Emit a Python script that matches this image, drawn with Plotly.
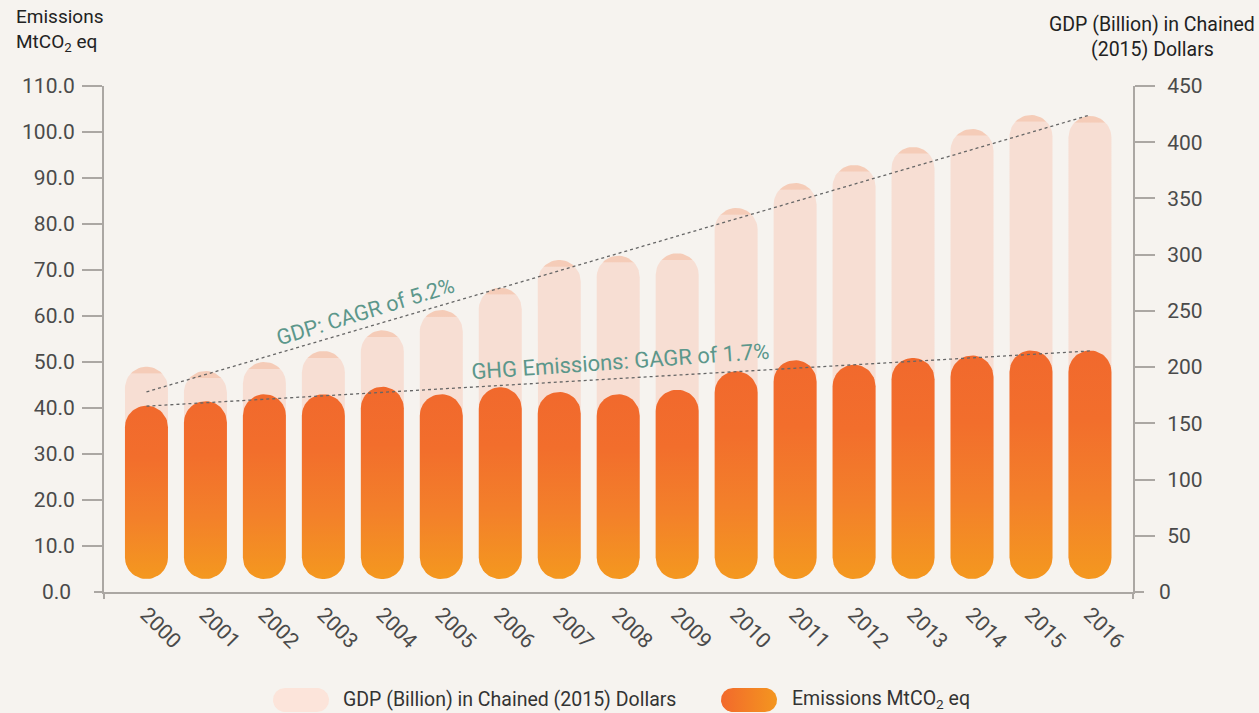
import numpy as np
import plotly.graph_objects as go

# ---------------- data ----------------
years = ["2000", "2001", "2002", "2003", "2004", "2005", "2006", "2007", "2008",
         "2009", "2010", "2011", "2012", "2013", "2014", "2015", "2016"]
gdp = [200.4, 196.5, 204.6, 214.3, 232.7, 250.8, 270.6, 295.3, 299.1,
       301.2, 341.5, 363.7, 379.8, 395.8, 411.8, 424.2, 423.3]
emissions = [40.5, 41.5, 43.0, 43.0, 44.6, 43.0, 44.5, 43.5, 43.0,
             44.0, 48.0, 50.4, 49.4, 50.9, 51.4, 52.5, 52.5]
gdp_trend = [178.0, 424.2]        # dotted trend line, first and last year
emis_trend = [40.4, 52.4]
emis_ticks = [0, 10, 20, 30, 40, 50, 60, 70, 80, 90, 100, 110]
gdp_ticks = [0, 50, 100, 150, 200, 250, 300, 350, 400, 450]

# ---------------- geometry ----------------
W, H = 1259, 713
ML, MR, MT, MB = 104, 126, 86, 0
PLOT_BOTTOM = 592
PW = W - ML - MR
PH = H - MT - MB
YDOM0 = (H - PLOT_BOTTOM) / PH
MAIN_H = PLOT_BOTTOM - MT

X_RANGE = [-0.72, 16.73]
Y_EM_RANGE = [0, 110]
Y_GDP_RANGE = [0, 450]
px_x = PW / (X_RANGE[1] - X_RANGE[0])
px_em = MAIN_H / (Y_EM_RANGE[1] - Y_EM_RANGE[0])
px_gdp = MAIN_H / (Y_GDP_RANGE[1] - Y_GDP_RANGE[0])

BAR_PX = 43
BASE_GAP_PX = 13
CAP_PX = 7
hw = BAR_PX / 2 / px_x
r_em = BAR_PX / 2 / px_em
r_gdp = BAR_PX / 2 / px_gdp

BG = "#F6F3EF"
AXIS = "#ABA7A3"
GDP_BODY = "#F7DED3"
GDP_CAP = "#F5CCB8"
TEAL = "#5C978B"
FONT = "Roboto"
TICK_COLOR = "#4A4A4A"


def vpill(xc, top, bottom, hw, r, n=30):
    t = np.linspace(0, np.pi, n)
    xs = list(xc + hw * np.cos(t)) + list(xc - hw * np.cos(t))
    ys = list(top - r + r * np.sin(t)) + list(bottom + r - r * np.sin(t))
    return xs + [xs[0]], ys + [ys[0]]


def hpill(x0, x1, yc, r, n=30):
    t1 = np.linspace(-np.pi / 2, np.pi / 2, n)
    t2 = np.linspace(np.pi / 2, 3 * np.pi / 2, n)
    xs = list(x1 - r + r * np.cos(t1)) + list(x0 + r + r * np.cos(t2))
    ys = list(yc + r * np.sin(t1)) + list(yc + r * np.sin(t2))
    return xs + [xs[0]], ys + [ys[0]]


def px2paper(fx, fy):
    return (fx - ML) / PW, (H - MB - fy) / PH


fig = go.Figure()

# GDP pills (base axis y, right side)
gdp_bottom = BASE_GAP_PX / px_gdp
for i, g in enumerate(gdp):
    xs, ys = vpill(i, g, gdp_bottom, hw, r_gdp)
    frac = 1 - CAP_PX / ((g - gdp_bottom) * px_gdp)
    fig.add_trace(go.Scatter(
        x=xs, y=ys, mode="lines", fill="toself", line=dict(width=0),
        fillgradient=dict(type="vertical", start=gdp_bottom, stop=g,
                          colorscale=[[0, GDP_BODY], [frac, GDP_BODY],
                                      [min(frac + 0.002, 1), GDP_CAP], [1, GDP_CAP]]),
        xaxis="x", yaxis="y", showlegend=False, hoverinfo="skip"))

fig.add_trace(go.Scatter(x=[0, len(years) - 1], y=gdp_trend, mode="lines",
                         line=dict(color="#666", width=1.3, dash="dot"),
                         xaxis="x", yaxis="y", showlegend=False, hoverinfo="skip"))

# Emission pills (overlaying axis y2, left side)
em_bottom = BASE_GAP_PX / px_em
for i, e in enumerate(emissions):
    xs, ys = vpill(i, e, em_bottom, hw, r_em)
    fig.add_trace(go.Scatter(
        x=xs, y=ys, mode="lines", fill="toself", line=dict(width=0),
        fillgradient=dict(type="vertical", start=em_bottom, stop=e,
                          colorscale=[[0, "#F4981F"], [0.35, "#F3802A"], [0.7, "#F26E2C"], [1, "#F1692D"]]),
        xaxis="x", yaxis="y2", showlegend=False, hoverinfo="skip"))

fig.add_trace(go.Scatter(x=[0, len(years) - 1], y=emis_trend, mode="lines",
                         line=dict(color="#666", width=1.3, dash="dot"),
                         xaxis="x", yaxis="y2", showlegend=False, hoverinfo="skip"))

# Legend swatches on a pixel-unit helper axis
LEG_H = 50
sx, sy = hpill(273 - ML, 329 - ML, H - 700, 12)
fig.add_trace(go.Scatter(x=sx, y=sy, mode="lines", fill="toself", line=dict(width=0),
                         fillcolor="#FCE4DA", xaxis="x3", yaxis="y3",
                         showlegend=False, hoverinfo="skip"))
sx, sy = hpill(721 - ML, 777 - ML, H - 700, 12)
fig.add_trace(go.Scatter(x=sx, y=sy, mode="lines", fill="toself", line=dict(width=0),
                         fillgradient=dict(type="horizontal", start=721 - ML, stop=777 - ML,
                                           colorscale=[[0, "#F2692C"], [1, "#F4961F"]]),
                         xaxis="x3", yaxis="y3", showlegend=False, hoverinfo="skip"))

annotations = []


def add_text(text, fx, fy, size, color, xanchor="center", angle=0):
    px, py = px2paper(fx, fy)
    annotations.append(dict(text=text, x=px, y=py, xref="paper", yref="paper",
                            xanchor=xanchor, yanchor="middle", showarrow=False,
                            textangle=angle, font=dict(family=FONT, size=size, color=color)))


add_text("Emissions", 14, 17, 19, "#222", "left")
add_text("MtCO<sub>2</sub> eq", 14, 42, 19, "#222", "left")
add_text("GDP (Billion) in Chained", 1152, 25, 19.5, "#222")
add_text("(2015) Dollars", 1152, 50, 19.5, "#222")
add_text("GDP: CAGR of 5.2%", 365, 311, 21.5, TEAL, angle=-17)
add_text("GHG Emissions: GAGR of 1.7%", 620, 361, 22, TEAL, angle=-4)
add_text("GDP (Billion) in Chained (2015) Dollars", 341, 699, 19.5, "#333", "left")
add_text("Emissions MtCO<sub>2</sub> eq", 790, 699, 19.5, "#333", "left")
# zero labels sit next to the short axis-line stubs instead of full ticks
add_text(f"{emis_ticks[0]:.1f}", 73, PLOT_BOTTOM, 21, TICK_COLOR, "right")
add_text(str(gdp_ticks[0]), 1157, PLOT_BOTTOM, 21, TICK_COLOR, "left")

axis_line = dict(color=AXIS, width=2)
shapes = [
    dict(type="line", xref="paper", yref="paper", xsizemode="pixel", xanchor=0,
         x0=-10, x1=0, y0=YDOM0, y1=YDOM0, line=axis_line),
    dict(type="line", xref="paper", yref="paper", xsizemode="pixel", xanchor=1,
         x0=0, x1=11, y0=YDOM0, y1=YDOM0, line=axis_line),
    dict(type="line", xref="paper", yref="paper", ysizemode="pixel", yanchor=YDOM0,
         x0=0, x1=0, y0=-7, y1=0, line=axis_line),
    dict(type="line", xref="paper", yref="paper", ysizemode="pixel", yanchor=YDOM0,
         x0=1, x1=1, y0=-7, y1=0, line=axis_line),
]

tick_font = dict(family=FONT, size=21, color=TICK_COLOR)

fig.update_layout(
    template="none",
    width=W, height=H, autosize=False,
    margin=dict(l=ML, r=MR, t=MT, b=MB, pad=0),
    paper_bgcolor=BG, plot_bgcolor="rgba(0,0,0,0)",
    font=dict(family=FONT, color="#333"),
    showlegend=False,
    xaxis=dict(domain=[0, 1], range=X_RANGE, tickmode="array",
               tickvals=list(range(len(years))), ticktext=years,
               tickangle=45, ticks="", showline=True, linecolor=AXIS, linewidth=2,
               showgrid=False, zeroline=False, tickfont=tick_font,
               anchor="y", automargin=False, fixedrange=True, ticklabelstandoff=0),
    yaxis=dict(domain=[YDOM0, 1], range=Y_GDP_RANGE, side="right", anchor="x",
               tickmode="array", tickvals=gdp_ticks[1:],
               ticktext=[str(v) for v in gdp_ticks[1:]],
               ticks="outside", ticklen=20, tickwidth=2, tickcolor=AXIS,
               showline=True, linecolor=AXIS, linewidth=2, showgrid=False,
               zeroline=False, tickfont=tick_font, automargin=False,
               fixedrange=True, ticklabelstandoff=8),
    yaxis2=dict(range=Y_EM_RANGE, side="left", overlaying="y", anchor="x",
                tickmode="array", tickvals=emis_ticks[1:],
                ticktext=[f"{v:.1f}" for v in emis_ticks[1:]],
                ticks="outside", ticklen=20, tickwidth=2, tickcolor=AXIS,
                showline=True, linecolor=AXIS, linewidth=2, showgrid=False,
                zeroline=False, tickfont=tick_font, automargin=False,
                fixedrange=True, ticklabelstandoff=3),
    xaxis3=dict(domain=[0, 1], range=[0, PW], anchor="y3", visible=False, fixedrange=True),
    yaxis3=dict(domain=[0, LEG_H / PH], range=[0, LEG_H], anchor="x3", visible=False,
                fixedrange=True),
    annotations=annotations,
    shapes=shapes,
)

fig.write_html("out.html", config={"displayModeBar": False},
               post_script="document.body.style.margin='0';document.body.style.overflow='hidden';")
